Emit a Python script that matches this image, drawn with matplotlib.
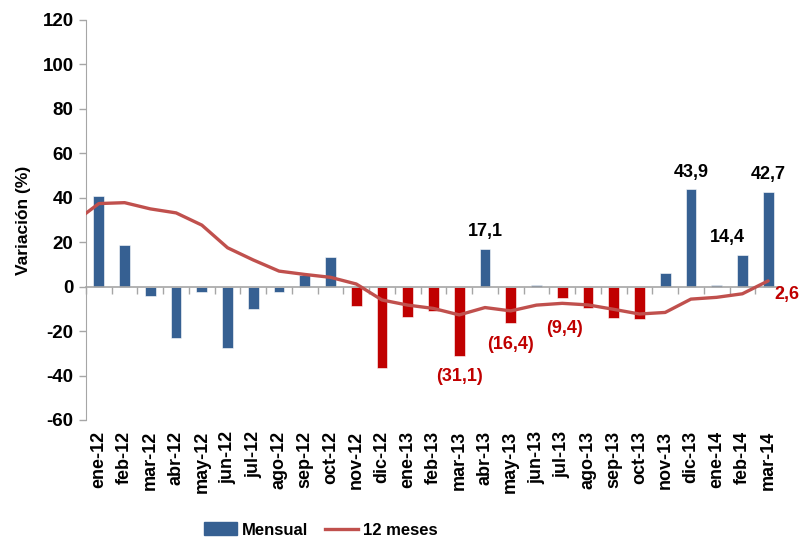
import matplotlib
matplotlib.use("Agg")
import matplotlib.pyplot as plt
import numpy as np
from matplotlib.patches import Patch
from matplotlib.lines import Line2D

plt.rcParams['font.family'] = ['Liberation Sans', 'DejaVu Sans']
plt.rcParams['axes.unicode_minus'] = False

categories = ["ene-12", "feb-12", "mar-12", "abr-12", "may-12", "jun-12", "jul-12",
              "ago-12", "sep-12", "oct-12", "nov-12", "dic-12", "ene-13", "feb-13",
              "mar-13", "abr-13", "may-13", "jun-13", "jul-13", "ago-13", "sep-13",
              "oct-13", "nov-13", "dic-13", "ene-14", "feb-14", "mar-14"]
mensual = [41.0, 18.6, -4.4, -23.1, -2.3, -27.6, -10.0, -2.6, 5.3, 13.5, -8.6, -36.8,
           -13.5, -10.8, -31.1, 17.1, -16.4, 0.6, -5.1, -9.4, -14.2, -14.7, 6.2, 43.9,
           0.6, 14.4, 42.7]
prior_12m = 28.7  # dic-11 (line enters from the left edge)
doce_meses = [37.4, 37.8, 35.0, 33.2, 27.7, 17.5, 12.0, 7.0, 5.5, 4.2, 1.2, -6.0,
              -8.3, -9.8, -12.7, -9.4, -10.9, -8.3, -7.5, -8.2, -10.2, -12.3, -11.6,
              -5.6, -4.8, -3.2, 2.6]
highlight_start, highlight_end = "nov-12", "oct-13"

bar_labels = [("abr-13", "17,1"), ("dic-13", "43,9"), ("feb-14", "14,4"), ("mar-14", "42,7")]
neg_labels = [("mar-13", "(31,1)"), ("may-13", "(16,4)"), ("ago-13", "(9,4)")]

BLUE = "#366092"
RED = "#C00000"
LINE = "#C0504D"
GRAY = "#A6A6A6"

fig = plt.figure(figsize=(8, 5.4), dpi=100)
ax = fig.add_axes([86/800, 1-420/540, (781-86)/800, 400/540])

x = np.arange(len(categories))
i0, i1 = categories.index(highlight_start), categories.index(highlight_end)
colors = [RED if (i0 <= i <= i1 and v < 0) else BLUE for i, v in enumerate(mensual)]
ax.bar(x, mensual, width=0.42, color=colors, edgecolor="white", linewidth=0.4, zorder=2)

lx = np.concatenate([[-1], x])
ly = np.concatenate([[prior_12m], doce_meses])
ax.plot(lx, ly, color=LINE, lw=2.4, zorder=3, solid_capstyle='round')

ax.set_xlim(-0.5, len(categories) - 0.5)
ax.set_ylim(-60, 120)
ax.set_yticks(np.arange(-60, 121, 20))
ax.tick_params(axis='y', labelsize=13.5, length=5, color=GRAY, width=1, pad=4)
for t in ax.get_yticklabels():
    t.set_fontweight('bold')
ax.set_ylabel("Variación (%)", fontsize=12.5, fontweight='bold', labelpad=8)

for s in ['top', 'right']:
    ax.spines[s].set_visible(False)
ax.spines['left'].set_color(GRAY)
ax.spines['bottom'].set_position(('data', 0))
ax.spines['bottom'].set_color(GRAY)
ax.spines['bottom'].set_linewidth(1.2)
ax.set_xticks(np.arange(-0.5, len(categories), 1.0), minor=False)
ax.set_xticklabels([])
ax.tick_params(axis='x', length=5, color=GRAY, width=1, direction='out')

sec = ax.secondary_xaxis(0)
sec.set_xticks(x)
sec.set_xticklabels(categories, rotation=90, fontsize=13, fontweight='bold')
sec.tick_params(length=0, pad=8)
sec.spines['bottom'].set_visible(False)

for cat, txt in bar_labels:
    i = categories.index(cat)
    dx = -0.6 if cat == "feb-14" else 0
    ax.annotate(txt, (i, mensual[i]), xytext=(dx * 25.8, 17), textcoords='offset pixels',
                ha='center', va='center', fontsize=13, fontweight='bold', color='black')
for cat, txt in neg_labels:
    i = categories.index(cat)
    dx = -0.9 if cat == "ago-13" else 0
    ax.annotate(txt, (i, mensual[i]), xytext=(dx * 25.8, -21), textcoords='offset pixels',
                ha='center', va='center', fontsize=13, fontweight='bold', color=RED)
ax.annotate("2,6", (len(categories) - 1, doce_meses[-1]), xytext=(19, -14),
            textcoords='offset pixels', ha='center', va='center', fontsize=13,
            fontweight='bold', color=RED, annotation_clip=False)

handles = [Patch(facecolor=BLUE, edgecolor=BLUE), Line2D([0], [0], color=LINE, lw=2.4)]
fig.legend(handles, ["Mensual", "12 meses"], loc='center', bbox_to_anchor=(321/800, 1-530/540),
           ncol=2, frameon=False, prop={'weight': 'bold', 'size': 12},
           handlelength=2.0, handleheight=0.8, columnspacing=1.0, handletextpad=0.3)

fig.savefig("out.png", dpi=100)
